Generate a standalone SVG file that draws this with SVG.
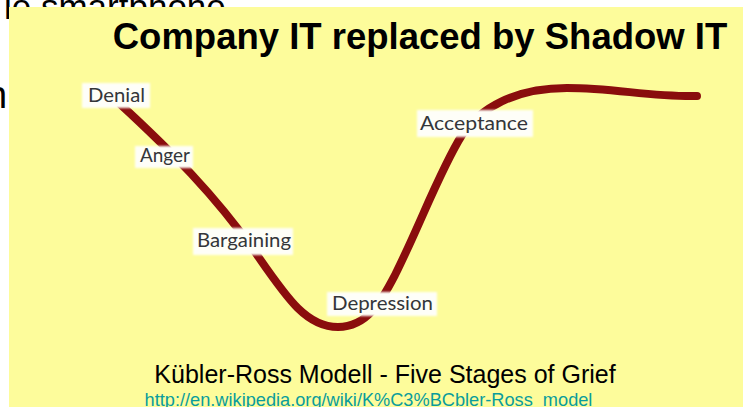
<svg xmlns="http://www.w3.org/2000/svg" width="743" height="407" viewBox="0 0 743 407">
  <defs>
    <filter id="soft" x="-10%" y="-20%" width="120%" height="140%">
      <feGaussianBlur stdDeviation="1.2"/>
    </filter>
  </defs>
  <style>
    .slide-text { font-family: "Liberation Sans", Arial, sans-serif; fill: #000; }
    .stage-box { fill: #fefef8; filter: url(#soft); }
    .stage-label { font-family: Lato, "Open Sans", sans-serif; font-size: 18.5px; fill: #34363a; }
    .curve { fill: none; stroke: #8a0d0d; stroke-width: 8; stroke-linecap: round; stroke-linejoin: round; }
  </style>

  <!-- page behind the slide panel -->
  <rect x="0" y="0" width="743" height="407" fill="#ffffff"/>
  <text class="slide-text" x="4" y="19" font-size="35">le smartphone</text>
  <text class="slide-text" x="-14" y="108" font-size="38">n</text>

  <!-- slide panel -->
  <rect id="panel" x="9" y="7" width="734" height="400" fill="#fdfc9b"/>

  <text id="title" class="slide-text" x="420" y="49" font-size="36.5" font-weight="bold" text-anchor="middle">Company IT replaced by Shadow IT</text>

  <!-- grief curve -->
  <g id="connectors">
    <path class="curve" d="M120,104 C170,150 215,195 255,252 C285,295 305,327 338,327 C368,327 382,300 395,275 C420,225 440,170 462,135 C480,108 515,88 567,88 C615,88 650,97 697,96"/>
  </g>

  <g id="denial">
    <rect class="stage-box" x="82" y="83" width="68" height="25"/>
    <text class="stage-label" x="88" y="102" textLength="57" lengthAdjust="spacingAndGlyphs">Denial</text>
  </g>
  <g id="anger">
    <rect class="stage-box" x="135" y="146" width="58" height="22"/>
    <text class="stage-label" x="140" y="162" textLength="50" lengthAdjust="spacingAndGlyphs">Anger</text>
  </g>
  <g id="bargaining">
    <rect class="stage-box" x="193" y="228" width="100" height="27"/>
    <text class="stage-label" x="197" y="247" textLength="94" lengthAdjust="spacingAndGlyphs">Bargaining</text>
  </g>
  <g id="depression">
    <rect class="stage-box" x="327" y="292" width="110" height="24"/>
    <text class="stage-label" x="332" y="310" textLength="101" lengthAdjust="spacingAndGlyphs">Depression</text>
  </g>
  <g id="acceptance">
    <rect class="stage-box" x="417" y="110" width="116" height="27"/>
    <text class="stage-label" x="420" y="130" textLength="108" lengthAdjust="spacingAndGlyphs">Acceptance</text>
  </g>

  <text id="caption" class="slide-text" x="385" y="383" font-size="25" text-anchor="middle">Kübler-Ross Modell - Five Stages of Grief</text>
  <text id="source" class="slide-text" x="368.5" y="406" font-size="18.2" text-anchor="middle" style="fill:#0a9c9c" text-decoration="underline">http://en.wikipedia.org/wiki/K%C3%BCbler-Ross_model</text>
</svg>
